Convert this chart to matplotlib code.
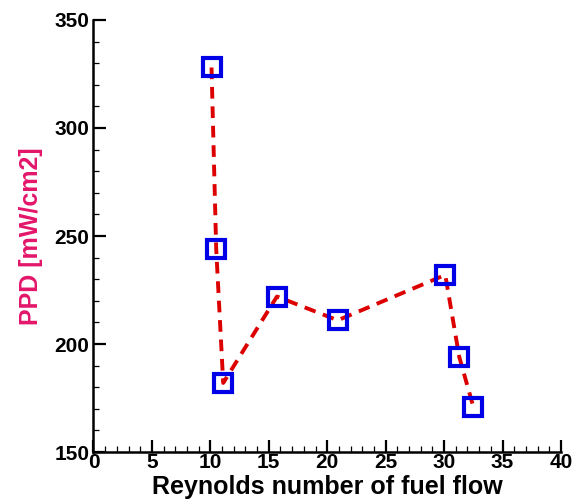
import matplotlib.pyplot as plt
from matplotlib.ticker import MultipleLocator

# data
reynolds = [10.1, 10.5, 11.1, 15.7, 20.9, 30.1, 31.3, 32.5]
ppd = [328, 244, 182, 222, 211, 232, 194, 171]

plt.rcParams['font.family'] = ['Liberation Sans', 'DejaVu Sans']
plt.rcParams['font.weight'] = 'bold'

fig = plt.figure(figsize=(5.88, 4.99), dpi=100)
ax = fig.add_axes([0.159, 0.094, 0.795, 0.866])

ax.plot(reynolds, ppd, color='#dd0000', linestyle='--', linewidth=2.8,
        dashes=(3, 2), zorder=2)
ax.plot(reynolds, ppd, linestyle='none', marker='s', markersize=13,
        markerfacecolor='none', markeredgecolor='#0000e6',
        markeredgewidth=3, zorder=3)

ax.set_xlim(0, 40)
ax.set_ylim(150, 350)
ax.xaxis.set_major_locator(MultipleLocator(5))
ax.xaxis.set_minor_locator(MultipleLocator(1))
ax.yaxis.set_major_locator(MultipleLocator(50))
ax.yaxis.set_minor_locator(MultipleLocator(10))

for side in ['top', 'right']:
    ax.spines[side].set_visible(False)
for side in ['left', 'bottom']:
    ax.spines[side].set_linewidth(1.8)

ax.tick_params(which='major', direction='in', length=9, width=1.6,
               labelsize=15, pad=3)
ax.tick_params(axis='x', which='major', pad=1)
ax.tick_params(which='minor', direction='in', length=4.5, width=0.9)
for lab in ax.get_xticklabels() + ax.get_yticklabels():
    lab.set_fontweight('bold')

ax.set_xlabel('Reynolds number of fuel flow', fontsize=18, fontweight='bold',
              labelpad=2)
ax.set_ylabel('PPD [mW/cm2]', fontsize=18, fontweight='bold',
              color='#e3166a', labelpad=8)

fig.savefig('out.png', dpi=100)
